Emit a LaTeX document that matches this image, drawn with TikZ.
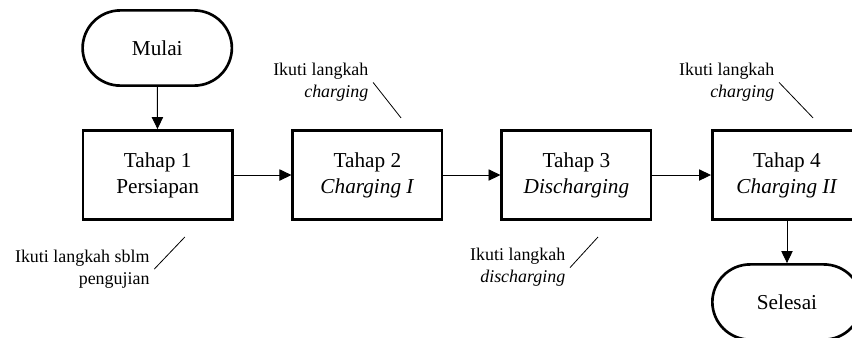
\documentclass[tikz,border=0pt]{standalone}
\usepackage{fontspec}
\setmainfont{Liberation Serif}
\usetikzlibrary{arrows.meta}

\begin{document}
\begin{tikzpicture}[
  tahap/.style={rectangle,draw=black,line width=2pt,minimum width=3.95cm,minimum height=2.36cm,align=center,font=\fontsize{16}{19.5}\selectfont},
  ujung/.style={rectangle,rounded corners=1cm,draw=black,line width=2pt,minimum width=3.95cm,minimum height=1.99cm,font=\fontsize{16}{19.5}\selectfont},
  catatan/.style={anchor=east,align=right,font=\fontsize{13.5}{16.5}\selectfont},
  panah/.style={-{Triangle[length=9pt,width=8.5pt]},line width=0.7pt}]
% \draw[help lines] (0,0) grid (22,-9);
\clip (0,0) rectangle (22.54,-8.94);
\node (mulai) [ujung] at (4.16,-1.27) {Mulai};
\node (t1) [tahap] at (4.17,-4.63) {Tahap 1\\Persiapan};
\node (t2) [tahap] at (9.72,-4.63) {Tahap 2\\\textit{Charging I}};
\node (t3) [tahap] at (15.25,-4.63) {Tahap 3\\\textit{Discharging}};
\node (t4) [tahap] at (20.82,-4.63) {Tahap 4\\\textit{Charging II}};
\node (selesai) [ujung] at (20.82,-7.99) {Selesai};
%
\draw[panah] (mulai) -- (t1);
\draw[panah] (t1) -- (t2);
\draw[panah] (t2) -- (t3);
\draw[panah] (t3) -- (t4);
\draw[panah] (t4) -- (selesai);
%
\node (c1) [catatan] at (4.08,-7.12) {Ikuti langkah sblm\\pengujian};
\node (c2) [catatan] at (9.87,-2.18) {Ikuti langkah\\\textit{charging}};
\node (c3) [catatan] at (15.08,-7.08) {Ikuti langkah\\\textit{discharging}};
\node (c4) [catatan] at (20.61,-2.18) {Ikuti langkah\\\textit{charging}};
\coordinate (g1) at (4.89,-6.27);
\coordinate (g2) at (10.61,-3.12);
\coordinate (g3) at (15.82,-6.27);
\coordinate (g4) at (21.51,-3.12);
\draw[line width=0.6pt] (c1.east) -- (g1);
\draw[line width=0.6pt] (c2.east) -- (g2);
\draw[line width=0.6pt] (c3.east) -- (g3);
\draw[line width=0.6pt] (c4.east) -- (g4);
\end{tikzpicture}
\end{document}
